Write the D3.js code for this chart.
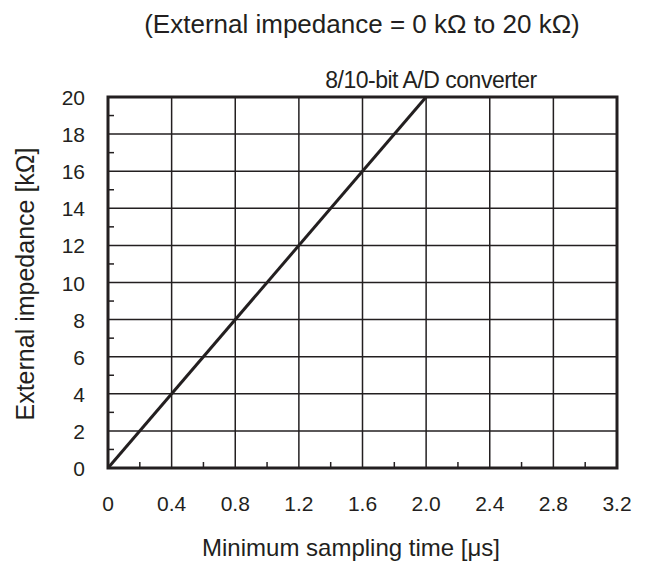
<!DOCTYPE html>
<html>
<head>
<meta charset="utf-8">
<script src="https://cdn.jsdelivr.net/npm/d3@7"></script>
<style>
  body { margin: 0; background: #fff; }
  text { font-family: 'Liberation Sans', Arial, sans-serif; fill: #231f20; }
</style>
</head>
<body>
<div id="viz"></div>
<script>
const timeValues = [0, 2.0];
const impedanceValues = [0, 20];
const xTicks = [0, 0.4, 0.8, 1.2, 1.6, 2.0, 2.4, 2.8, 3.2];
const xTickLabels = ['0', '0.4', '0.8', '1.2', '1.6', '2.0', '2.4', '2.8', '3.2'];
const yTicks = [0, 2, 4, 6, 8, 10, 12, 14, 16, 18, 20];

(() => {
  let margin = { top: 97, right: 31, bottom: 95, left: 108 },
    width = 648 - margin.left - margin.right,
    height = 563 - margin.top - margin.bottom;

  let svg = d3.select('#viz')
    .append('svg')
    .attr('width', 648)
    .attr('height', 563);

  let g = svg.append('g')
    .attr('transform', `translate(${margin.left}, ${margin.top})`);

  let x = d3.scaleLinear().domain([0, 3.2]).range([0, width]);
  let y = d3.scaleLinear().domain([0, 20]).range([height, 0]);

  const ink = '#231f20';

  // grid
  g.selectAll('.vgrid')
    .data(xTicks.slice(1, -1))
    .join('line')
    .attr('x1', d => x(d)).attr('x2', d => x(d))
    .attr('y1', 0).attr('y2', height)
    .attr('stroke', ink).attr('stroke-width', 1.5);

  g.selectAll('.hgrid')
    .data(yTicks.slice(1, -1))
    .join('line')
    .attr('x1', 0).attr('x2', width)
    .attr('y1', d => y(d)).attr('y2', d => y(d))
    .attr('stroke', ink).attr('stroke-width', 1.5);

  // minor ticks inside
  let xMinor = xTicks.slice(0, -1).map(d => d + 0.2);
  g.selectAll('.xminor')
    .data(xMinor)
    .join('line')
    .attr('x1', d => x(d)).attr('x2', d => x(d))
    .attr('y1', height).attr('y2', height - 6)
    .attr('stroke', ink).attr('stroke-width', 1.5);

  let yMinor = yTicks.slice(0, -1).map(d => d + 1);
  g.selectAll('.yminor')
    .data(yMinor)
    .join('line')
    .attr('x1', 0).attr('x2', 6)
    .attr('y1', d => y(d)).attr('y2', d => y(d))
    .attr('stroke', ink).attr('stroke-width', 1.5);

  // frame
  g.append('rect')
    .attr('x', 0).attr('y', 0)
    .attr('width', width).attr('height', height)
    .attr('fill', 'none')
    .attr('stroke', ink).attr('stroke-width', 3);

  // data line
  let line = d3.line()
    .x((d, i) => x(timeValues[i]))
    .y(d => y(d));

  g.append('path')
    .datum(impedanceValues)
    .attr('d', line)
    .attr('fill', 'none')
    .attr('stroke', ink)
    .attr('stroke-width', 3);

  // tick labels
  g.selectAll('.xlabel')
    .data(xTicks)
    .join('text')
    .attr('x', d => x(d))
    .attr('y', height + 43)
    .attr('text-anchor', 'middle')
    .style('font-size', '21px')
    .text((d, i) => xTickLabels[i]);

  g.selectAll('.ylabel')
    .data(yTicks)
    .join('text')
    .attr('x', -23)
    .attr('y', d => y(d) + 8)
    .attr('text-anchor', 'end')
    .style('font-size', '21px')
    .text(d => d);

  // titles
  svg.append('text')
    .attr('x', 362).attr('y', 33)
    .attr('text-anchor', 'middle')
    .style('font-size', '26px')
    .text('(External impedance = 0 k\u03A9 to 20 k\u03A9)');

  svg.append('text')
    .attr('x', 431).attr('y', 88)
    .attr('text-anchor', 'middle')
    .style('font-size', '23px')
    .style('letter-spacing', '-0.5px')
    .text('8/10-bit A/D converter');

  svg.append('text')
    .attr('x', 351).attr('y', 556)
    .attr('text-anchor', 'middle')
    .style('font-size', '24px')
    .text('Minimum sampling time [\u03BCs]');

  svg.append('text')
    .attr('transform', `translate(34, 284) rotate(-90)`)
    .attr('text-anchor', 'middle')
    .style('font-size', '25px')
    .text('External impedance [k\u03A9]');
})();
</script>
</body>
</html>
